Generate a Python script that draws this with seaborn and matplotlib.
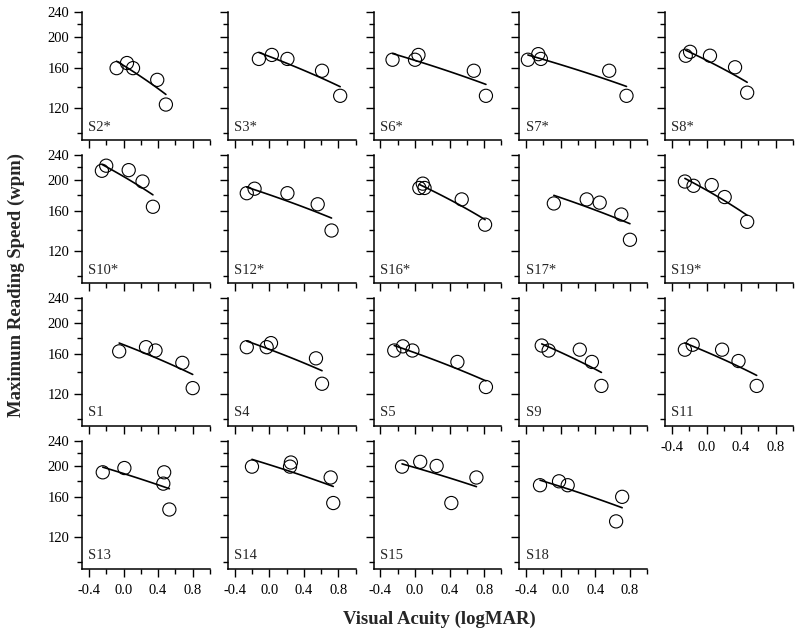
import numpy as np
import pandas as pd
import seaborn as sns
import matplotlib
matplotlib.use('Agg')
import matplotlib.pyplot as plt
from matplotlib.ticker import FixedLocator, NullFormatter

subjects = ['S2*', 'S3*', 'S6*', 'S7*', 'S8*',
            'S10*', 'S12*', 'S16*', 'S17*', 'S19*',
            'S1', 'S4', 'S5', 'S9', 'S11',
            'S13', 'S14', 'S15', 'S18']

# visual acuity (logMAR), five conditions per subject
acuity = [
    [-0.08, 0.04, 0.11, 0.39, 0.49],
    [-0.12, 0.03, 0.21, 0.61, 0.82],
    [-0.26, 0.00, 0.04, 0.68, 0.82],
    [-0.38, -0.26, -0.23, 0.56, 0.76],
    [-0.24, -0.19, 0.04, 0.33, 0.47],
    [-0.25, -0.20, 0.06, 0.22, 0.34],
    [-0.26, -0.17, 0.21, 0.56, 0.72],
    [0.05, 0.09, 0.11, 0.54, 0.81],
    [-0.08, 0.30, 0.45, 0.70, 0.80],
    [-0.25, -0.15, 0.06, 0.21, 0.47],
    [-0.05, 0.26, 0.37, 0.68, 0.80],
    [-0.26, -0.03, 0.02, 0.54, 0.61],
    [-0.24, -0.14, -0.03, 0.49, 0.82],
    [-0.22, -0.14, 0.22, 0.36, 0.47],
    [-0.25, -0.16, 0.18, 0.37, 0.58],
    [-0.24, 0.01, 0.47, 0.46, 0.53],
    [-0.20, 0.25, 0.24, 0.71, 0.74],
    [-0.15, 0.06, 0.25, 0.42, 0.71],
    [-0.24, -0.02, 0.08, 0.64, 0.71],
]

# maximum reading speed (wpm)
speed = [
    [160, 166, 160, 147, 123],
    [171, 176, 171, 157, 131],
    [170, 170, 176, 157, 131],
    [170, 177, 171, 157, 131],
    [175, 180, 175, 161, 134],
    [214, 222, 215, 198, 165],
    [182, 188, 182, 168, 139],
    [189, 195, 189, 174, 145],
    [169, 174, 170, 156, 130],
    [198, 192, 193, 177, 148],
    [163, 168, 164, 150, 125],
    [168, 168, 173, 155, 129],
    [164, 169, 164, 151, 126],
    [170, 164, 165, 151, 127],
    [165, 171, 165, 152, 127],
    [191, 197, 191, 176, 146],
    [199, 205, 199, 184, 153],
    [199, 206, 200, 153, 184],
    [174, 179, 174, 134, 160],
]

rows = []
for name, xs, ys in zip(subjects, acuity, speed):
    for x, y in zip(xs, ys):
        rows.append({'subject': name, 'acuity': x, 'speed': y})
df = pd.DataFrame(rows)

sns.set_theme(style='ticks')
plt.rcParams['font.family'] = ['Liberation Serif', 'DejaVu Serif']
plt.rcParams['axes.edgecolor'] = 'black'
plt.rcParams['xtick.color'] = 'black'
plt.rcParams['ytick.color'] = 'black'

fig = plt.figure(figsize=(8, 6.37), dpi=100)
W, H = 800, 637

for i, name in enumerate(subjects):
    row, col = divmod(i, 5)
    left = (82 + 145.75 * col) / W
    top = (12 + 142.9 * row) / H
    ax = fig.add_axes([left, 1 - top - 128.3 / H, 128 / W, 128.3 / H])
    d = df[df['subject'] == name]
    sns.regplot(data=d, x='acuity', y='speed', ax=ax, ci=None, truncate=True,
                scatter_kws=dict(s=90, color='none', edgecolor='black',
                                 linewidths=0.8, alpha=1, zorder=3, clip_on=False),
                line_kws=dict(color='black', lw=1.2))
    ax.set_yscale('log')
    ax.set_ylim(95, 240)
    ax.set_xlim(-0.48, 1.0)
    ax.set_xlabel('')
    ax.set_ylabel('')

    ax.set_xticks([-0.4, 0.0, 0.4, 0.8])
    ax.set_xticklabels(['-0.4', '0.0', '0.4', '0.8'])
    ax.xaxis.set_minor_locator(FixedLocator([-0.2, 0.2, 0.6, 1.0]))
    ax.set_yticks([120, 160, 200, 240])
    ax.set_yticklabels(['120', '160', '200', '240'])
    ax.yaxis.set_minor_locator(FixedLocator([100, 140, 180, 220]))
    ax.yaxis.set_minor_formatter(NullFormatter())

    ax.tick_params(which='major', direction='out', length=6, width=1.0, labelsize=10.5)
    ax.tick_params(axis='x', which='major', pad=5)
    ax.tick_params(axis='y', which='major', pad=3)
    ax.tick_params(which='minor', direction='out', length=3.6, width=1.0)
    show_x = row == 3 or name == 'S11'
    ax.tick_params(labelbottom=show_x, labelleft=(col == 0))

    sns.despine(ax=ax)
    for s in ['left', 'bottom']:
        ax.spines[s].set_linewidth(1.1)

    ax.text(0.05, 0.075, name, transform=ax.transAxes, fontsize=10.5, va='baseline')

fig.text(0.549, 0.027, 'Visual Acuity (logMAR)', ha='center', va='center',
         fontsize=13.5, fontweight='bold')
fig.text(0.021, 0.553, 'Maximum Reading Speed (wpm)', ha='center', va='center',
         rotation=90, fontsize=13.5, fontweight='bold')

fig.savefig('out.png', dpi=100)
